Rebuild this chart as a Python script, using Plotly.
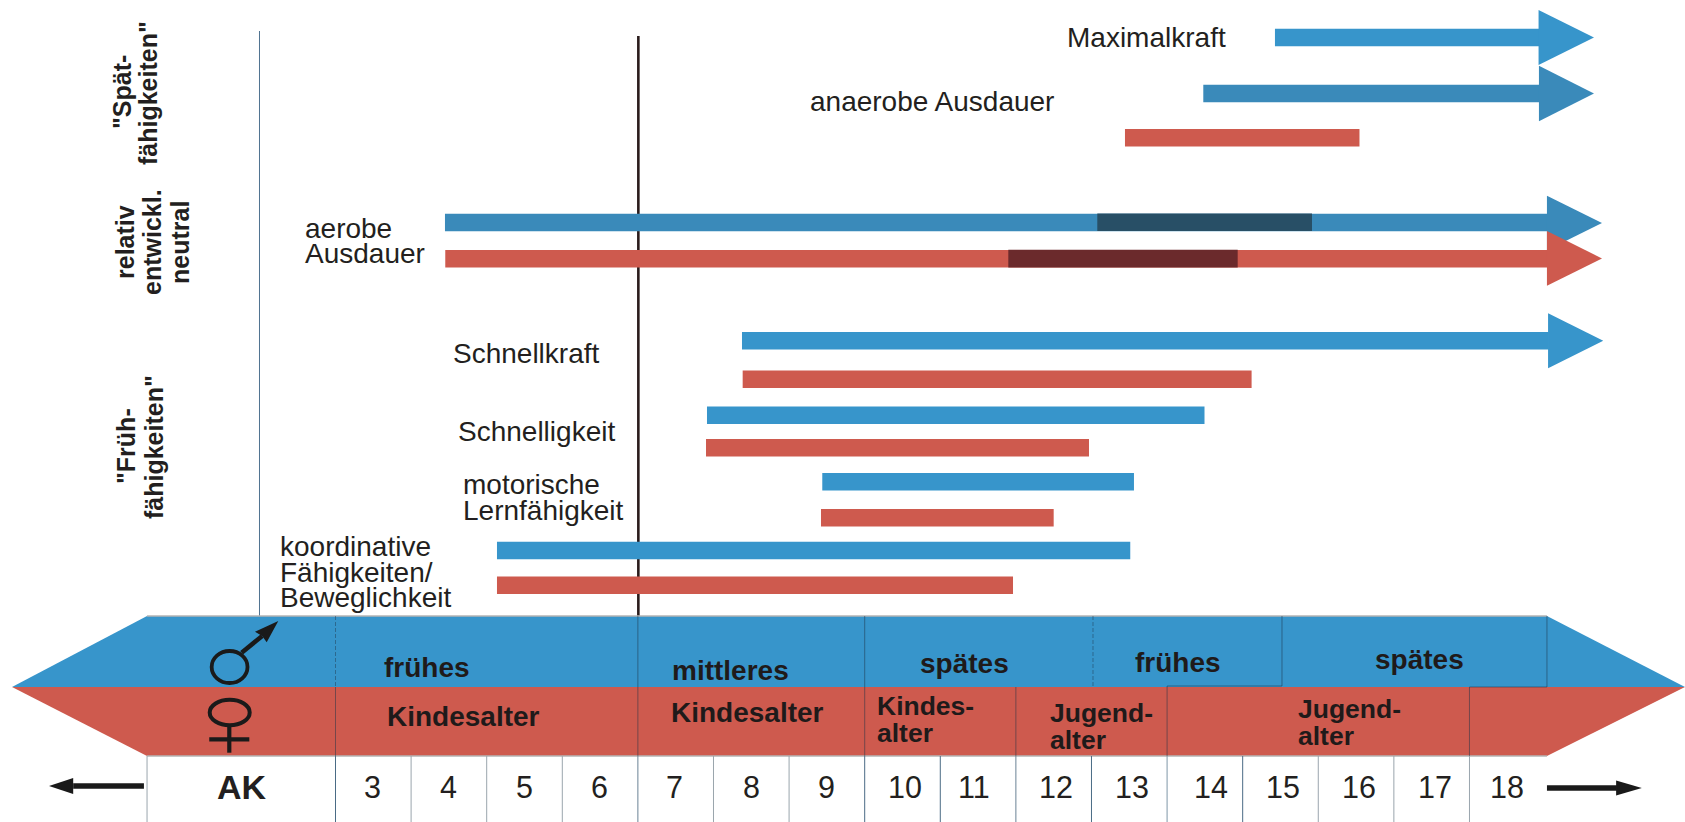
import plotly.graph_objects as go

# ---------- data (x values are ages in years, y values are rows on a 0-822 scale) ----------
BLUE = "#3795cb"; BLUE2 = "#3a8aba"; RED = "#ce5a4e"
DBLUE = "#284f66"; DRED = "#6b2a2c"; INK = "#231f20"
FONT = "Liberation Sans"

bar_names = ["Maximalkraft m", "anaerobe Ausdauer m", "anaerobe Ausdauer w", "aerobe Ausdauer m", "aerobe Ausdauer w",
             "Schnellkraft m", "Schnellkraft w", "Schnelligkeit m", "Schnelligkeit w",
             "Lernfaehigkeit m", "Lernfaehigkeit w", "koordinativ m", "koordinativ w"]
bar_start = [15.427, 14.479, 13.443, 4.448, 4.452, 8.377, 8.386, 7.914, 7.901, 9.439, 9.422, 5.136, 5.136]
bar_end   = [18.93, 18.93, 16.545, 19.04, 19.04, 19.05, 15.118, 14.495, 12.967, 13.562, 12.5, 13.513, 11.962]
bar_row   = [37.5, 93.5, 137.7, 222.5, 258.7, 340.8, 379.2, 415.3, 447.8, 481.7, 517.8, 550.5, 585.2]
bar_color = [BLUE, BLUE2, RED, BLUE2, RED, BLUE, RED, BLUE, RED, BLUE, RED, BLUE, RED]

dark_start = [13.077, 11.9]
dark_end   = [15.917, 14.934]
dark_row   = [222.3, 258.6]
dark_color = [DBLUE, DRED]

head_base = [18.914, 18.919, 19.025, 19.025, 19.04]
head_tip  = [19.647, 19.647, 19.753, 19.753, 19.77]
head_row  = [37.5, 93.5, 223.0, 258.4, 340.8]
head_half = [27.5, 27.7, 27.3, 27.3, 27.5]
head_col  = [BLUE, BLUE2, BLUE2, RED, BLUE]

band_left_tip, band_left, band_right, band_right_tip = -1.279, 0.507, 19.025, 20.851
band_top, band_mid, band_bottom = 616, 687, 756

column_edges = [0.507, 3, 4, 5, 6, 7, 8, 9, 10, 11, 12, 13, 14, 15, 16, 17, 18]
edge_color = ["#9aa5ad", "#4a6b85", "#9aa5ad", "#9aa5ad", "#9aa5ad", "#6a8296", "#9aa5ad", "#9aa5ad",
              "#4a6b85", "#4a6b85", "#6a8296", "#4a6b85", "#7f97a8", "#4a6b85", "#9aa5ad", "#9aa5ad", "#9aa5ad"]
age_labels = ["3", "4", "5", "6", "7", "8", "9", "10", "11", "12", "13", "14", "15", "16", "17", "18"]
age_label_x = [3.49, 4.49, 5.50, 6.49, 7.49, 8.50, 9.50, 10.53, 11.45, 12.53, 13.54, 14.58, 15.53, 16.54, 17.54, 18.49]

# ---------- figure ----------
fig = go.Figure()

def poly(xs, ys, color):
    fig.add_trace(go.Scatter(x=xs, y=ys, mode="lines", fill="toself", fillcolor=color,
                             line=dict(color=color, width=0), hoverinfo="skip", showlegend=False))

def line(xs, ys, color, width, dash="solid"):
    fig.add_trace(go.Scatter(x=xs, y=ys, mode="lines", line=dict(color=color, width=width, dash=dash),
                             hoverinfo="skip", showlegend=False))

def label(x, y, text, size=28, bold=False, anchor="left", angle=0, color=INK):
    fig.add_annotation(x=x, y=y, text=text, showarrow=False, xanchor=anchor, yanchor="middle", textangle=angle,
                       font=dict(family=FONT, size=size, color=color, weight="bold" if bold else "normal"),
                       borderpad=0, borderwidth=0)

# horizontal bars
for st, en, rw, col, nm in zip(bar_start, bar_end, bar_row, bar_color, bar_names):
    fig.add_trace(go.Bar(y=[rw], x=[en - st], base=[st], orientation="h", width=[17.6],
                         marker=dict(color=col, line=dict(width=0)), name=nm, showlegend=False, hoverinfo="skip"))
for st, en, rw, col in zip(dark_start, dark_end, dark_row, dark_color):
    fig.add_trace(go.Bar(y=[rw], x=[en - st], base=[st], orientation="h", width=[17.6],
                         marker=dict(color=col, line=dict(width=0)), showlegend=False, hoverinfo="skip"))

# arrow heads
for b, t, r, h, c in zip(head_base, head_tip, head_row, head_half, head_col):
    poly([b, t, b, b], [r - h, r, r + h, r - h], c)

# long vertical guide lines (under the bars)
fig.add_shape(type="line", x0=-1.438 + 259.5 / 75.6, x1=-1.438 + 259.5 / 75.6, y0=31, y1=band_top, layer="below",
              line=dict(color="#4f7390", width=1))
fig.add_shape(type="line", x0=7.006, x1=7.006, y0=36, y1=band_top, layer="below",
              line=dict(color="#2a1c1c", width=2.6))

# band
poly([band_left_tip, band_left, band_right, band_right_tip, band_left_tip],
     [band_mid, band_top, band_top, band_mid, band_mid], BLUE)
poly([band_left_tip, band_left, band_right, band_right_tip, band_left_tip],
     [band_mid, band_bottom, band_bottom, band_mid, band_mid], RED)
line([band_left, band_right], [band_top, band_top], "#b4b4b4", 1.5)
line([band_left, band_right], [band_bottom, band_bottom], "#b4b4b4", 1.5)

# band dividers
DIV = "rgba(30,50,70,0.5)"
line([3, 3], [band_top, band_mid], DIV, 0.9, "4px,2px")
line([3, 3], [band_mid, band_bottom], DIV, 1)
line([7, 7], [band_top, band_bottom], DIV, 1)
line([10, 10], [band_top, band_bottom], DIV, 1)
line([13.02, 13.02], [band_top, band_mid], DIV, 0.9, "4px,2px")
line([15.52, 15.52, 14, 14], [band_top, band_mid - 1, band_mid - 1, band_bottom], DIV, 1)
line([19.025, 19.025, 18, 18], [band_top, band_mid, band_mid, band_bottom], DIV, 1)
line([12, 12], [band_mid, band_bottom], DIV, 1)

# column edges under the band
for e, c in zip(column_edges, edge_color):
    line([e, e], [band_bottom, 822], c, 1)

# bottom arrows
line([-0.47, 0.466], [786, 786], "#1a1a1a", 5.5)
poly([-0.79, -0.47, -0.47, -0.79], [786, 778, 794, 786], "#1a1a1a")
line([19.025, 19.95], [788, 788], "#1a1a1a", 5.5)
poly([20.28, 19.94, 19.94, 20.28], [788, 780.5, 795.5, 788], "#1a1a1a")

# male symbol
fig.add_shape(type="circle", x0=1.362, x1=1.836, y0=651, y1=683, layer="above", line=dict(color="#1a1a1a", width=3.8))
line([1.758, 2.03], [652.7, 636], "#1a1a1a", 4.5)
poly([2.243, 1.935, 2.03, 2.09, 2.243], [621, 631.7, 636, 642.3, 621], "#1a1a1a")

# female symbol
fig.add_shape(type="circle", x0=1.336, x1=1.865, y0=699.7, y1=725.3, layer="above", line=dict(color="#1a1a1a", width=4))
line([1.595, 1.595], [727, 752.7], "#1a1a1a", 4.2)
line([1.33, 1.86], [739.3, 739.3], "#1a1a1a", 4.2)

# rotated group labels
for x, y, t in [(122, 92, '"Spät-'), (148, 93, 'fähigkeiten"'),
                (125, 242, "relativ"), (152, 242, "entwickl."), (180, 242, "neutral"),
                (126, 446, '"Früh-'), (154, 447, 'fähigkeiten"')]:
    label(-1.438 + x / 75.6, y, t, size=25, bold=True, anchor="center", angle=-90)

# ability labels
for x, y, t in [(1067.5, 37, "Maximalkraft"), (810, 101.5, "anaerobe Ausdauer"),
                (305, 228, "aerobe"), (305, 253, "Ausdauer"),
                (453.5, 353, "Schnellkraft"), (458, 431, "Schnelligkeit"),
                (463, 484, "motorische"), (463, 510, "Lernfähigkeit"),
                (280, 546, "koordinative"), (280, 572, "Fähigkeiten/"), (280, 597, "Beweglichkeit")]:
    label(-1.438 + x / 75.6, y, t)

# band labels
for x, y, t in [(384, 667, "frühes"), (672, 670, "mittleres"), (920, 663, "spätes"), (1135, 662, "frühes"), (1375, 659, "spätes"),
                (387.5, 716, "Kindesalter"), (671, 712, "Kindesalter")]:
    label(-1.438 + x / 75.6, y, t, size=28, bold=True, color="#1f1a1a")
for x, y, t in [(877, 706, "Kindes-"), (877, 733, "alter"),
                (1050, 713, "Jugend-"), (1050, 740, "alter"),
                (1298, 709, "Jugend-"), (1298, 736, "alter")]:
    label(-1.438 + x / 75.6, y, t, size=26.5, bold=True, color="#1f1a1a")

# age axis labels
label(1.76, 787, "AK", size=34, bold=True, anchor="center")
for x, t in zip(age_label_x, age_labels):
    label(x, 787, t, size=30.5, anchor="center")

fig.update_layout(
    width=1685, height=822, margin=dict(l=0, r=0, t=0, b=0),
    paper_bgcolor="white", plot_bgcolor="white", showlegend=False, barmode="overlay",
    xaxis=dict(range=[-1.438, 20.851], visible=False, fixedrange=True),
    yaxis=dict(range=[822, 0], visible=False, fixedrange=True),
)
fig.write_html("out.html", config={"displayModeBar": False},
               post_script="document.body.style.margin='0';")
